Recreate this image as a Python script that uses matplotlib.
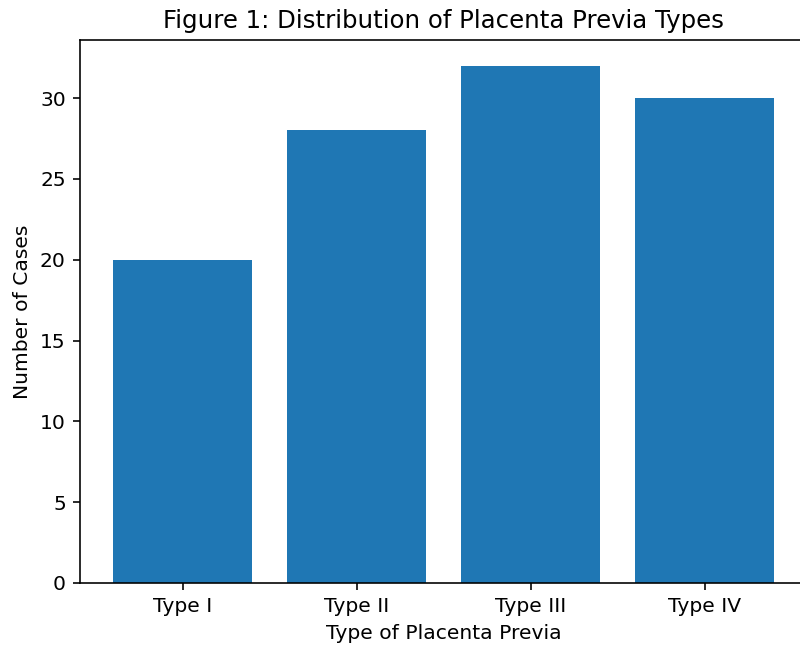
import matplotlib
matplotlib.use('Agg')
import matplotlib.pyplot as plt

types = ['Type I', 'Type II', 'Type III', 'Type IV']
cases = [20, 28, 32, 30]

dpi = 146
fig = plt.figure(figsize=(800 / dpi, 651 / dpi), dpi=dpi)
# axes run a bit past the right edge of the picture, as in the reference
ax = fig.add_axes([0.1, 0.1045, 0.909, 0.8341])
ax.bar(types, cases, color='#1f77b4')
ax.set_title('Figure 1: Distribution of Placenta Previa Types')
ax.set_xlabel('Type of Placenta Previa')
ax.set_ylabel('Number of Cases')

fig.savefig('out.png', dpi=dpi)
